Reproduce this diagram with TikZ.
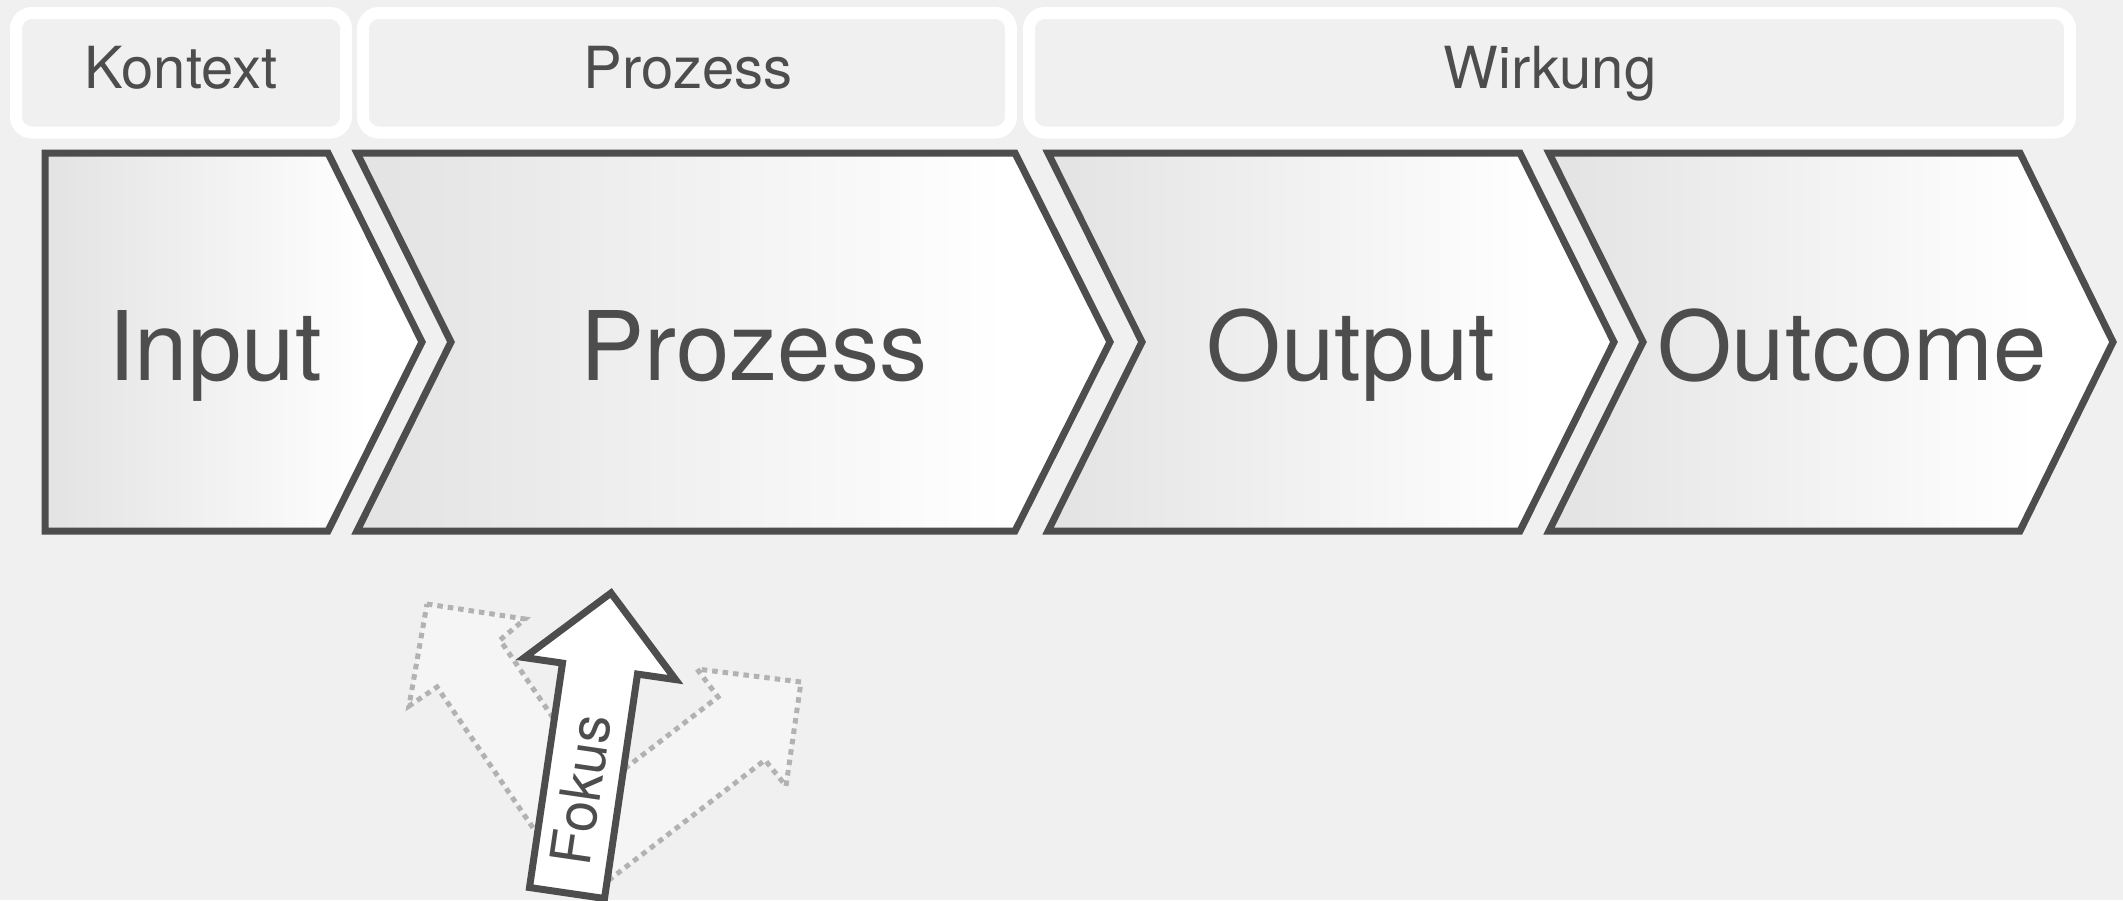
\documentclass[tikz,border=0pt]{standalone}
\usepackage{fontspec}
\setmainfont{TeX Gyre Heros}
\definecolor{bg}{RGB}{240,240,240}
\definecolor{ink}{RGB}{77,77,77}
\definecolor{shadeL}{RGB}{228,228,228}
\definecolor{dotgray}{RGB}{178,178,178}
\definecolor{ghost}{RGB}{245,245,245}
% grey on the left, fading to white towards the tip
\pgfdeclarehorizontalshading{chevfade}{100bp}{color(0bp)=(shadeL); color(27bp)=(shadeL); color(68bp)=(white); color(100bp)=(white)}

\begin{document}
\begin{tikzpicture}[x=1pt,y=-1pt,
  band/.style={draw=white, line width=12pt, rounded corners=16pt},
  bandlabel/.style={text=ink, anchor=base, inner sep=0pt, font=\fontsize{58}{58}\selectfont},
  chevron/.style={draw=ink, line width=7pt, line join=miter, shading=chevfade},
  biglabel/.style={text=ink, anchor=base, inner sep=0pt, font=\fontsize{96}{96}\selectfont},
  ghostarrow/.style={draw=dotgray, fill=ghost, line width=5pt, dash pattern=on 5.5pt off 5pt},
  focusarrow/.style={draw=ink, fill=white, line width=7pt, line join=miter},
  focuslabel/.style={text=ink, inner sep=0pt, font=\fontsize{56}{56}\selectfont},
]
% canvas
\fill[bg] (0,0) rectangle (2123,900);
\useasboundingbox (0,0) rectangle (2123,900);

% category bands
\draw[band] (16,13) rectangle (346,132.5);
\draw[band] (363,13) rectangle (1011,132.5);
\draw[band] (1029,13) rectangle (2070,132.5);
\node[bandlabel] (kontext) at (181,88) {Kontext};
\node[bandlabel] (prozesscat) at (688,88) {Prozess};
\node[bandlabel] (wirkung) at (1550,88) {Wirkung};

% process chain
\draw[chevron] (45,153) -- (328,153) -- (422,342) -- (328,531) -- (45,531) -- cycle;
\draw[chevron] (357,153) -- (1015,153) -- (1110,342) -- (1015,531) -- (357,531) -- (451,342) -- cycle;
\draw[chevron] (1048,153) -- (1520,153) -- (1614,342) -- (1520,531) -- (1048,531) -- (1142,342) -- cycle;
\draw[chevron] (1549,153) -- (2020,153) -- (2113,342) -- (2020,531) -- (1549,531) -- (1643,342) -- cycle;
\node[biglabel] (input) at (215,380) {Input};
\node[biglabel] (prozess) at (754,380) {Prozess};
\node[biglabel] (output) at (1351,380) {Output};
\node[biglabel] (outcome) at (1852,380) {Outcome};

% alternative directions (dotted)
\draw[ghostarrow] (427,604) -- (525,619) -- (500,640) -- (607,797) -- (544,844) -- (437,687) -- (409,706) -- cycle;
\draw[ghostarrow] (801,682) -- (697,669) -- (718,697) -- (551.5,825) -- (598.5,888) -- (765,760) -- (786,786) -- cycle;

% focus arrow
\draw[focusarrow] (611,593) -- (675.6,679.6) -- (637.5,674.1) -- (604.5,898.5) -- (529.5,887.5) -- (562.5,663.1) -- (524.4,657.6) -- cycle;
\node[focuslabel, rotate=81.7] (fokus) at (581,790) {Fokus};
\end{tikzpicture}
\end{document}
